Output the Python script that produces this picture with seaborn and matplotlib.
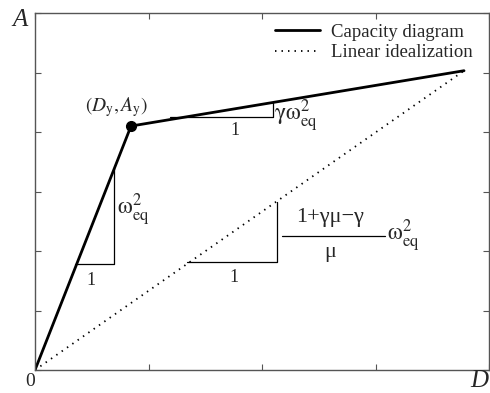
import matplotlib
matplotlib.use("Agg")
import matplotlib.pyplot as plt
import seaborn as sns
import pandas as pd

# Data
disp_capacity = [0.0, 0.846, 3.78]
acc_capacity = [0.0, 4.10, 5.03]
disp_linear = [0.0, 3.78]
acc_linear = [0.0, 5.03]
yield_point = (0.846, 4.10)

# slope triangles (x list, y list)
tri_elastic_x = [0.352, 0.696, 0.696]
tri_elastic_y = [1.78, 1.78, 3.39]
tri_post_x = [1.19, 2.097, 2.097]
tri_post_y = [4.25, 4.25, 4.50]
tri_linear_x = [1.339, 2.132, 2.132]
tri_linear_y = [1.815, 1.815, 2.82]

x_ticks = [0, 1, 2, 3, 4]
y_ticks = [0, 1, 2, 3, 4, 5, 6]

sns.set_theme(style="white")
plt.rcParams['font.family'] = ['Liberation Serif', 'DejaVu Serif']
plt.rcParams['mathtext.fontset'] = 'stix'

fig = plt.figure(figsize=(4.9, 3.93), dpi=100)
ax = fig.add_axes([35/490, 23/393, 454/490, 357/393])

df_cap = pd.DataFrame({"D": disp_capacity, "A": acc_capacity})
df_lin = pd.DataFrame({"D": disp_linear, "A": acc_linear})
sns.lineplot(data=df_cap, x="D", y="A", sort=False, color="black", lw=2.0,
             ax=ax, label="Capacity diagram")
sns.lineplot(data=df_lin, x="D", y="A", sort=False, color="black", lw=1.3,
             linestyle=(0, (0.8, 2.8)), ax=ax, label="Linear idealization")
ax.plot([yield_point[0]], [yield_point[1]], 'o', color='black', ms=7, zorder=5)

for tx, ty in [(tri_elastic_x, tri_elastic_y), (tri_post_x, tri_post_y),
               (tri_linear_x, tri_linear_y)]:
    ax.plot(tx, ty, color='black', lw=0.9)

fs = 13
ax.text(0.49, 1.51, "1", fontsize=fs, ha='center', va='center')
ax.text(1.76, 4.03, "1", fontsize=fs, ha='center', va='center')
ax.text(1.75, 1.55, "1", fontsize=fs, ha='center', va='center')
ax.text(0.72, 2.69, r"$\mathrm{\omega}^{2}_{\mathrm{eq}}$", fontsize=17, ha='left', va='center')
ax.text(2.11, 4.27, r"$\mathrm{\gamma\omega}^{2}_{\mathrm{eq}}$", fontsize=17, ha='left', va='center')
# fraction (1+γμ−γ)/μ · ω²eq
ax.text(2.60, 2.57, "1+γμ−γ", fontsize=16, ha='center', va='center')
ax.plot([2.176, 3.084], [2.252, 2.252], color='black', lw=0.9)
ax.text(2.60, 1.98, "μ", fontsize=16, ha='center', va='center')
ax.text(3.10, 2.25, r"$\mathrm{\omega}^{2}_{\mathrm{eq}}$", fontsize=17, ha='left', va='center')
ax.text(0.72, 4.42, r"$(D_{\mathrm{y}}, A_{\mathrm{y}})$", fontsize=14, ha='center', va='center')

ax.set_xlim(0, 4)
ax.set_ylim(0, 6)
ax.set_xticks(x_ticks)
ax.set_yticks(y_ticks)
ax.set_xticklabels([])
ax.set_yticklabels([])
ax.set_xlabel("")
ax.set_ylabel("")
ax.tick_params(direction='in', length=4, width=0.8, color='#555555',
               top=True, right=True, bottom=True, left=True)
for s in ax.spines.values():
    s.set_color('#555555')
    s.set_linewidth(1.0)

fig.text(30/490, 1 - 382/393, "0", fontsize=14, ha='center', va='center')
fig.text(20/490, 1 - 20/393, "A", fontsize=18, style='italic', ha='center', va='center')
fig.text(479/490, 1 - 381/393, "D", fontsize=18, style='italic', ha='center', va='center')

ax.legend(loc='upper right', frameon=False, fontsize=13.5, handlelength=2.4,
          handletextpad=0.55, labelspacing=0.2, borderpad=0.15,
          bbox_to_anchor=(0.99, 1.005))

fig.savefig("out.png", dpi=100, facecolor='white')
